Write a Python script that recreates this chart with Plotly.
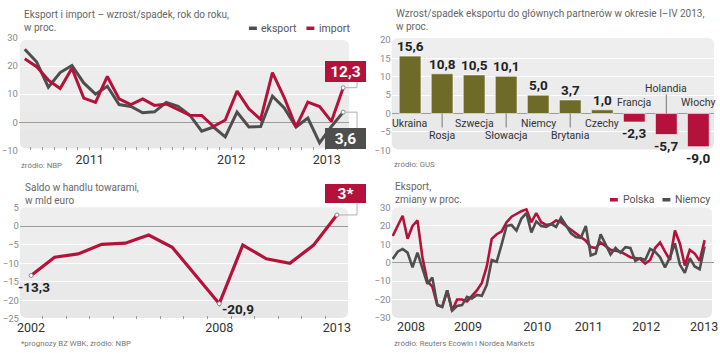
import plotly.graph_objects as go

W, H = 720, 353
FONT = "Roboto, Liberation Sans, sans-serif"
RED = "#b5123b"
GRAY = "#4e4e4e"
OLIVE = "#6e6b28"
BG = "#e7e7e7"

# ---------------- data ----------------
# Panel 1: export / import, y/y %, monthly Jan 2011 - Apr 2013
p1_years = ["2011", "2012", "2013"]
p1_export = [26.0, 21.5, 12.5, 17.7, 20.2, 14.0, 10.0, 12.8, 6.3, 5.6, 3.4, 3.7, 7.1, 5.7,
             2.5, -3.2, -1.7, -5.2, 3.6, -1.7, -1.5, 9.3, 5.1, -1.7, 1.5, -7.3, -1.5, 3.6]
p1_import = [22.6, 19.8, 15.0, 12.0, 19.2, 8.6, 7.1, 16.3, 8.3, 6.3, 8.3, 6.0, 6.5, 4.6,
             2.5, 2.4, -1.5, 0.8, 11.1, 4.8, 1.0, 17.7, 8.8, -1.7, 7.2, 5.6, 0.3, 12.3]

# Panel 2: export growth to main partners, I-IV 2013, %
p2_countries = ["Ukraina", "Rosja", "Szwecja", "Słowacja", "Niemcy", "Brytania",
                "Czechy", "Francja", "Holandia", "Włochy"]
p2_values = [15.6, 10.8, 10.5, 10.1, 5.0, 3.7, 1.0, -2.3, -5.7, -9.0]

# Panel 3: trade balance, bn EUR
p3_years = ["2002", "2008", "2013"]
p3_balance = [-13.3, -8.4, -7.5, -4.9, -4.6, -2.4, -5.7, -13.4, -20.9, -5.1, -8.8, -10.0, -5.2, 3.0]

# Panel 4: exports, % change, monthly 2008 - Apr 2013
p4_years = ["2008", "2009", "2010", "2011", "2012", "2013"]
p4_polska = [14.5, 20.0, 25.5, 13.0, 20.0, 23.0, 3.0, -10.0, -13.0, -23.0, -24.0, -15.0, -26.0,
             -20.0, -20.0, -21.0, -18.0, -15.0, -11.0, -2.0, 13.0, 15.5, 17.0, 22.0, 25.0, 26.5,
             28.0, 29.0, 22.0, 27.0, 22.0, 20.5, 21.0, 23.0, 22.0, 20.0, 18.0, 15.5, 14.0, 12.0,
             8.5, 8.0, 11.0, 9.0, 7.0, 6.5, 6.0, 4.5, 3.0, 2.5, 2.0, -0.5, 1.5, 8.0, 11.0, 6.0,
             1.5, 17.5, 10.5, -1.5, 7.0, 5.0, 1.0, 12.3]
p4_niemcy = [2.0, 6.0, 7.5, 5.5, -2.5, 5.5, -3.0, -11.5, -8.0, -23.0, -24.0, -15.0, -26.0,
             -23.5, -23.0, -18.5, -19.5, -17.5, -18.0, -12.0, 1.5, 0.5, 10.0, 20.0, 20.5, 17.5,
             24.0, 27.0, 16.5, 22.5, 20.0, 19.5, 21.0, 19.5, 24.5, 20.0, 16.0, 14.0, 13.5, 20.0,
             4.0, 5.0, 15.5, 10.0, 4.5, 8.0, 5.5, 8.5, 8.0, 1.0, 2.5, 1.5, 7.5, 6.0, 3.0, -2.5,
             3.0, 10.5, -1.0, -5.5, 2.5, -2.0, -3.5, 8.8]


def fmt(v):
    return f"{v:.1f}".replace(".", ",")


# ---------------- geometry helpers (pixels -> paper) ----------------
def fx(px):
    return px / W


def fy(py):
    return 1 - py / H


def dx(a, b):
    return [fx(a), fx(b)]


def dy(top, bottom):
    return [fy(bottom), fy(top)]


# panel plot boxes in pixels: (left, right, top, bottom)
P1 = (16, 349, 33, 149)
P2 = (392, 717, 35, 149)
P3 = (17, 348, 208, 323)
P4 = (392, 717, 208, 322)
R1x, R1y = [-0.5, len(p1_export) - 0.5], [-10, 30]
R2x, R2y = [-0.573, len(p2_values) - 0.51], [-10, 20]
R3x, R3y = [-0.477, len(p3_balance) - 0.523], [-25, 5]
R4x, R4y = [-0.2, len(p4_polska) + 0.9], [-30, 30]


def px_of(v, box, rng):
    return box[0] + (v - rng[0]) / (rng[1] - rng[0]) * (box[1] - box[0])


def py_of(v, box, rng):
    return box[3] - (v - rng[0]) / (rng[1] - rng[0]) * (box[3] - box[2])


def rrect(x0, y0, x1, y1, r=7, rb=None):
    rb = r if rb is None else rb
    p = [
        f"M {fx(x0 + r)},{fy(y0)}", f"L {fx(x1 - r)},{fy(y0)}",
        f"Q {fx(x1)},{fy(y0)} {fx(x1)},{fy(y0 + r)}", f"L {fx(x1)},{fy(y1 - rb)}",
        f"Q {fx(x1)},{fy(y1)} {fx(x1 - rb)},{fy(y1)}", f"L {fx(x0 + rb)},{fy(y1)}",
        f"Q {fx(x0)},{fy(y1)} {fx(x0)},{fy(y1 - rb)}", f"L {fx(x0)},{fy(y0 + r)}",
        f"Q {fx(x0)},{fy(y0)} {fx(x0 + r)},{fy(y0)}", "Z",
    ]
    return " ".join(p)


fig = go.Figure()

# ---------------- traces ----------------
x1 = list(range(len(p1_export)))
fig.add_trace(go.Scatter(x=x1, y=p1_export, mode="lines", line=dict(color=GRAY, width=3),
                         xaxis="x", yaxis="y", hoverinfo="skip"))
fig.add_trace(go.Scatter(x=x1, y=p1_import, mode="lines", line=dict(color=RED, width=3),
                         xaxis="x", yaxis="y", hoverinfo="skip"))
fig.add_trace(go.Scatter(x=[x1[-1], x1[-1]], y=[p1_import[-1], p1_export[-1]], mode="markers",
                         marker=dict(size=4, color="white", line=dict(color="#888", width=1)),
                         xaxis="x", yaxis="y", hoverinfo="skip"))

x2 = list(range(len(p2_values)))
fig.add_trace(go.Bar(x=x2, y=p2_values, width=0.68,
                     marker=dict(color=[OLIVE if v >= 0 else RED for v in p2_values],
                                 line=dict(color="rgba(255,255,255,0.6)", width=1)),
                     xaxis="x2", yaxis="y2", hoverinfo="skip"))

x3 = list(range(len(p3_balance)))
fig.add_trace(go.Scatter(x=x3, y=p3_balance, mode="lines", line=dict(color=RED, width=3.2),
                         xaxis="x3", yaxis="y3", hoverinfo="skip"))
i_min = p3_balance.index(min(p3_balance))
mk = [0, i_min, len(p3_balance) - 1]
fig.add_trace(go.Scatter(x=mk, y=[p3_balance[i] for i in mk], mode="markers",
                         marker=dict(size=4, color="white", line=dict(color="#888", width=1)),
                         xaxis="x3", yaxis="y3", hoverinfo="skip"))

x4 = list(range(len(p4_polska)))
fig.add_trace(go.Scatter(x=x4, y=p4_polska, mode="lines", line=dict(color=RED, width=2.6),
                         xaxis="x4", yaxis="y4", hoverinfo="skip"))
fig.add_trace(go.Scatter(x=x4, y=p4_niemcy, mode="lines", line=dict(color=GRAY, width=2.6),
                         xaxis="x4", yaxis="y4", hoverinfo="skip"))

# ---------------- axes ----------------
ytick = dict(size=9.5, color="#8a8a8a", family=FONT)
xtick = dict(size=12.5, color="#333333", family=FONT)
base = dict(showline=False, fixedrange=True)

ycommon = dict(base, showgrid=True, gridcolor="white", gridwidth=1, zeroline=True,
               zerolinecolor="#9c9c9c", zerolinewidth=1, tickfont=ytick, ticks="")

layout_axes = dict(
    xaxis=dict(base, domain=dx(P1[0], P1[1]), range=R1x, anchor="y", zeroline=False,
               showgrid=False, tickvals=[5.5, 17.5, 25.6], ticktext=p1_years, ticks="",
               tickfont=xtick,
               minor=dict(ticks="inside", tickvals=[i + 0.5 for i in x1[:-1]], ticklen=3,
                          tickcolor="#999", tickwidth=1, showgrid=False)),
    xaxis5=dict(base, domain=dx(P1[0], P1[1]), range=R1x, anchor="y", overlaying="x",
                side="bottom", zeroline=False, showgrid=False, tickvals=[11.5, 23.5],
                ticks="inside", ticklen=6, tickcolor="#999", showticklabels=False),
    yaxis=dict(ycommon, domain=dy(P1[2], P1[3]), range=R1y, anchor="x",
               tickvals=[-10, 0, 10, 20, 30]),
    xaxis2=dict(base, domain=dx(P2[0], P2[1]), range=R2x, anchor="y2", zeroline=False,
                showgrid=False, showticklabels=False, ticks=""),
    yaxis2=dict(ycommon, domain=dy(P2[2], P2[3]), range=R2y, anchor="x2",
                tickvals=[-10, -5, 0, 5, 10, 15, 20]),
    xaxis3=dict(base, domain=dx(P3[0], P3[1]), range=R3x, anchor="y3", zeroline=False,
                showgrid=False, tickvals=[0, i_min, len(p3_balance) - 1], ticktext=p3_years,
                ticks="", tickfont=xtick,
                minor=dict(ticks="inside", tickvals=[i + 0.5 for i in x3[:-1]], ticklen=3,
                           tickcolor="#999", tickwidth=1, showgrid=False)),
    yaxis3=dict(ycommon, domain=dy(P3[2], P3[3]), range=R3y, anchor="x3",
                tickvals=[-25, -20, -15, -10, -5, 0, 5]),
    xaxis4=dict(base, domain=dx(P4[0], P4[1]), range=R4x, anchor="y4", zeroline=False,
                showgrid=False, tickvals=[3.7, 15.2, 29.2, 39.6, 51.2, 62.9],
                ticktext=p4_years, ticks="", tickfont=xtick),
    yaxis4=dict(ycommon, domain=dy(P4[2], P4[3]), range=R4y, anchor="x4",
                tickvals=[-30, -20, -10, 0, 10, 20, 30]),
)

# ---------------- shapes ----------------
shapes = []
for (l, r, t, b) in [(17, 349, 35, 147), (392, 717, 33, 148), (17, 348, 208, 322), (392, 715, 208, 322)]:
    shapes.append(dict(type="path", xref="paper", yref="paper", path=rrect(l, t, r, b),
                       fillcolor=BG, line=dict(width=0), layer="below"))
    # soft vertical gradient: lighter towards the top
    for k in range(1, 6):
        yb = t + (b - t) * k / 6.0
        shapes.append(dict(type="path", xref="paper", yref="paper", path=rrect(l, t, r, yb, rb=0),
                           fillcolor="white", opacity=0.09, line=dict(width=0), layer="below"))


def legend_dash(x0, x1_, y, color):
    shapes.append(dict(type="line", xref="paper", yref="paper", x0=fx(x0), x1=fx(x1_),
                       y0=fy(y), y1=fy(y), line=dict(color=color, width=3.5)))


legend_dash(248, 256, 23, GRAY)
legend_dash(306, 314, 23, RED)
legend_dash(612, 620, 200, RED)
legend_dash(665, 673, 200, GRAY)


def connector(px0, py0, xb, yb):
    shapes.append(dict(type="path", xref="paper", yref="paper",
                       path=f"M {fx(px0 + 2)},{fy(py0)} L {fx(xb)},{fy(py0)} L {fx(xb)},{fy(yb)}",
                       line=dict(color="#b0b0b0", width=1)))


lx = px_of(x1[-1], P1, R1x)
connector(lx, py_of(p1_import[-1], P1, R1y), 357, 78)
connector(lx, py_of(p1_export[-1], P1, R1y), 357, 126)
connector(px_of(x3[-1], P3, R3x), py_of(p3_balance[-1], P3, R3y), 357, 203)

# bar chart category label levels (pixel offsets from zero line, + = up) and leader lines
p2_label_shift = [-10, -22, -10, -22, -10, -22, -10, 11, 25, 11]
for i, s in enumerate(p2_label_shift):
    if s == -22:
        shapes.append(dict(type="line", xref="x2", yref="y2", x0=i, x1=i, ysizemode="pixel",
                           yanchor=0, y0=0, y1=-14, line=dict(color="#777", width=1)))
    if s == 25:
        shapes.append(dict(type="line", xref="x2", yref="y2", x0=i, x1=i, ysizemode="pixel",
                           yanchor=0, y0=0, y1=19, line=dict(color="#777", width=1)))

# ---------------- annotations ----------------
ann = []


def text(x, y, s, size=10, color="#666", xanchor="left", yanchor="middle"):
    ann.append(dict(xref="paper", yref="paper", x=fx(x), y=fy(y), text=s,
                    showarrow=False, xanchor=xanchor, yanchor=yanchor, align="left",
                    font=dict(family=FONT, size=size, color=color)))


text(19, 1, "Eksport i import – wzrost/spadek, rok do roku,<br>w proc.", yanchor="top")
text(394, 0, "Wzrost/spadek eksportu do głównych partnerów w okresie I–IV 2013,<br>w proc.", yanchor="top")
text(20, 180, "Saldo w handlu towarami,<br>w mld euro", yanchor="top")
text(393, 179, "Eksport,<br>zmiany w proc.", yanchor="top")

text(16, 165, "źródło: NBP", size=7.8, color="#777")
text(392, 164, "źródło: GUS", size=7.8, color="#777")
text(16, 348, "*prognozy BZ WBK, źródło: NBP", size=7.8, color="#777")
text(392, 348, "źródło: Reuters Ecowin i Nordea Markets", size=7.8, color="#777")

text(258, 23, "eksport", size=10.5, color="#555")
text(317, 23, "import", size=10.5, color="#555")
text(623, 200, "Polska", size=10.5, color="#555")
text(676, 200, "Niemcy", size=10.5, color="#555")


def box(cx, cy, w, h, s, color):
    ann.append(dict(xref="paper", yref="paper", x=fx(cx), y=fy(cy), text=f"<b>{s}</b>",
                    showarrow=False, xanchor="center", yanchor="middle", width=w, height=h,
                    bgcolor=color, borderpad=0, borderwidth=0, align="center",
                    font=dict(family=FONT, size=15.5, color="white")))


box(345.5, 67.5, 41, 21, fmt(p1_import[-1]), RED)
box(345.5, 136.5, 41, 21, fmt(p1_export[-1]), GRAY)
box(345.5, 194, 41, 19, f"{p3_balance[-1]:.0f}*", RED)

# bar value labels + category labels
for i, v in enumerate(p2_values):
    ann.append(dict(xref="x2", yref="y2", x=i, y=v, text=f"<b>{fmt(v)}</b>", showarrow=False,
                    xanchor="center", yanchor="bottom" if v >= 0 else "top",
                    yshift=0 if v >= 0 else -1,
                    font=dict(family=FONT, size=13.5, color="#222")))
    ann.append(dict(xref="x2", yref="y2", x=i, y=0, text=p2_countries[i], showarrow=False,
                    xanchor="center", yanchor="middle", yshift=p2_label_shift[i],
                    font=dict(family=FONT, size=10.5, color="#333")))

# saldo point labels
ann.append(dict(xref="x3", yref="y3", x=0, y=p3_balance[0], text=f"<b>{fmt(p3_balance[0])}</b>",
                showarrow=False, xanchor="center", yanchor="top", xshift=3, yshift=-2,
                font=dict(family=FONT, size=13.5, color="#222")))
ann.append(dict(xref="x3", yref="y3", x=i_min, y=p3_balance[i_min], text=f"<b>{fmt(p3_balance[i_min])}</b>",
                showarrow=False, xanchor="left", yanchor="middle", xshift=1, yshift=-5,
                font=dict(family=FONT, size=13.5, color="#222")))

fig.update_layout(
    width=W, height=H, margin=dict(l=0, r=0, t=0, b=0, pad=0),
    paper_bgcolor="white", plot_bgcolor="rgba(0,0,0,0)",
    showlegend=False, shapes=shapes, annotations=ann,
    font=dict(family=FONT),
    **layout_axes,
)

fig.write_html("out.html")
